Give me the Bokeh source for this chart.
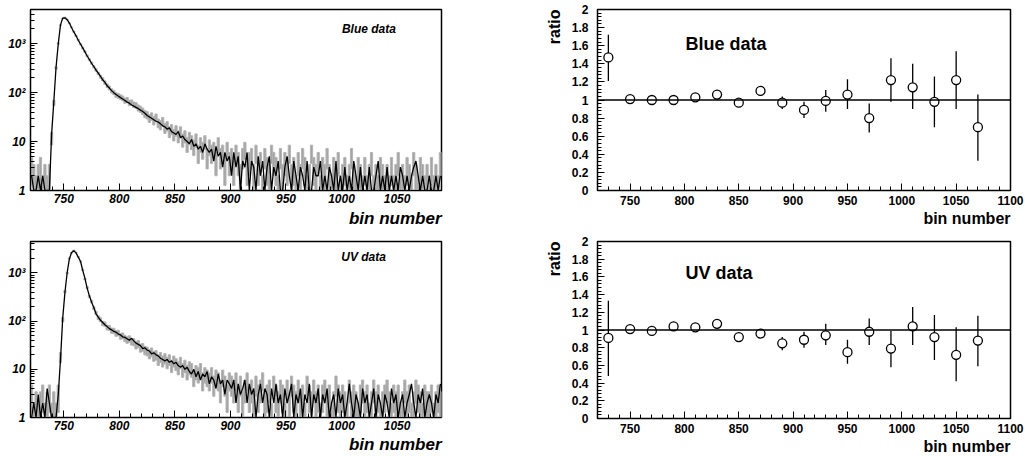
import numpy as np
from bokeh.embed import file_html
from bokeh.layouts import column, row
from bokeh.models import FixedTicker, Label, Span, Title
from bokeh.plotting import figure
from bokeh.resources import INLINE

FONT = "Liberation Sans"

# 2-unit bins, centres 721 ... 1089
bin_centers = np.arange(721, 1090, 2)

blue_data = [
    3, 2, 1, 2, 3, 1, 2, 1, 2, 12,
    62, 320, 1010, 2380, 3290, 3420, 3120, 2610, 2140, 1760,
    1440, 1190, 975, 815, 690, 565, 470, 402, 338, 291,
    248, 212, 187, 161, 139, 125, 109, 101, 90, 86,
    81, 77, 69, 71, 62, 63, 57, 55, 49, 46,
    42, 37, 35, 30, 33, 27, 31, 24, 22, 26,
    19, 21, 16, 18, 14, 17, 13, 16, 11, 13,
    9, 12, 10, 8, 11, 6, 9, 7, 10, 5,
    8, 6, 7, 4, 9, 5, 6, 3, 7, 4,
    5, 3, 6, 4, 2, 5, 7, 3, 4, 5,
    2, 6, 3, 4, 1, 5, 3, 2, 6, 4,
    3, 1, 5, 2, 4, 3, 6, 2, 3, 1,
    4, 2, 5, 3, 1, 2, 6, 3, 2, 4,
    1, 3, 2, 5, 2, 1, 3, 2, 4, 1,
    2, 3, 1, 2, 5, 2, 1, 3, 2, 1,
    3, 1, 2, 4, 1, 2, 1, 3, 2, 1,
    2, 1, 3, 1, 2, 4, 1, 2, 1, 3,
    2, 1, 4, 2, 1, 3, 2, 1, 2, 1,
    3, 1, 2, 1, 4,
]
blue_sim = [
    2, 1, 1, 2, 1, 2, 1, 1, 1, 14,
    66, 330, 990, 2420, 3330, 3380, 3090, 2640, 2120, 1740,
    1450, 1175, 985, 820, 680, 560, 475, 398, 342, 288,
    251, 216, 183, 162, 138, 124, 110, 100, 92, 85,
    79, 74, 69, 64, 61, 56, 53, 50, 47, 44,
    41, 38, 34, 32, 30, 28, 26, 25, 23, 21,
    20, 18, 19, 16, 15, 14, 16, 12, 13, 11,
    10, 9, 11, 8, 9, 7, 8, 6, 9, 7,
    6, 7, 4, 8, 5, 6, 3, 6, 4, 5,
    2, 6, 3, 5, 1, 4, 3, 6, 1, 4,
    3, 1, 5, 2, 4, 1, 3, 5, 1, 3,
    2, 4, 1, 1, 3, 5, 2, 1, 4, 2,
    1, 3, 2, 1, 4, 1, 1, 3, 2, 2,
    4, 1, 2, 1, 3, 2, 1, 4, 1, 2,
    1, 3, 1, 2, 1, 4, 2, 1, 3, 1,
    2, 1, 3, 1, 1, 2, 4, 1, 2, 1,
    3, 1, 2, 1, 2, 1, 3, 2, 1, 2,
    1, 2, 3, 4, 2, 1, 2, 1, 1, 2,
    1, 1, 2, 1, 2,
]
uv_data = [
    3, 1, 2, 1, 2, 3, 1, 2, 3, 1,
    2, 1, 3, 18, 108, 410, 990, 2010, 2610, 2920,
    2640, 2150, 1730, 1160, 750, 495, 325, 255, 186, 148,
    118, 107, 90, 87, 74, 73, 64, 63, 56, 57,
    49, 50, 44, 41, 43, 38, 37, 32, 34, 28,
    29, 25, 24, 21, 23, 19, 20, 16, 18, 15,
    17, 14, 16, 12, 15, 13, 11, 14, 10, 12,
    9, 11, 10, 7, 9, 8, 10, 6, 8, 7,
    6, 8, 5, 7, 6, 4, 7, 5, 3, 6,
    5, 4, 6, 3, 5, 2, 4, 6, 3, 4,
    2, 5, 3, 4, 6, 2, 3, 4, 1, 5,
    3, 2, 4, 3, 1, 4, 2, 5, 3, 2,
    4, 2, 3, 1, 5, 3, 2, 4, 2, 3,
    1, 3, 4, 2, 3, 1, 2, 5, 3, 2,
    3, 2, 1, 4, 2, 3, 2, 1, 3, 4,
    2, 3, 1, 2, 4, 2, 3, 1, 2, 3,
    4, 2, 1, 3, 2, 3, 1, 2, 4, 2,
    3, 1, 2, 4, 3, 2, 1, 3, 2, 2,
    3, 1, 2, 3, 2,
]
uv_sim = [
    1, 2, 1, 3, 1, 2, 1, 4, 2, 1,
    1, 1, 3, 16, 115, 395, 1010, 1980, 2650, 2880,
    2610, 2130, 1750, 1140, 770, 485, 335, 248, 192, 142,
    121, 104, 94, 84, 77, 70, 66, 61, 59, 54,
    52, 47, 46, 43, 40, 44, 39, 35, 33, 31,
    27, 28, 25, 24, 21, 22, 20, 19, 17, 16,
    15, 16, 14, 15, 13, 14, 12, 11, 12, 10,
    11, 9, 8, 10, 7, 9, 6, 8, 7, 9,
    5, 7, 6, 4, 8, 5, 6, 3, 6, 5,
    4, 6, 2, 5, 3, 4, 6, 2, 5, 3,
    4, 1, 3, 5, 2, 4, 3, 1, 4, 2,
    5, 2, 3, 1, 4, 2, 3, 5, 1, 3,
    2, 4, 1, 3, 2, 5, 1, 3, 2, 4,
    1, 3, 2, 4, 1, 2, 3, 1, 4, 2,
    3, 1, 2, 5, 2, 1, 3, 2, 1, 4,
    2, 3, 1, 2, 4, 1, 3, 2, 1, 3,
    2, 1, 4, 2, 3, 1, 2, 3, 1, 2,
    3, 5, 2, 1, 3, 2, 4, 1, 2, 3,
    2, 1, 3, 2, 5,
]

ratio_x = [730, 750, 770, 790, 810, 830, 850, 870, 890, 910,
           930, 950, 970, 990, 1010, 1030, 1050, 1070]
blue_ratio = [1.47, 1.01, 1.00, 1.00, 1.03, 1.06, 0.97, 1.10, 0.97, 0.89,
              0.99, 1.06, 0.80, 1.22, 1.14, 0.98, 1.22, 0.70]
blue_ratio_hi = [1.72, 1.03, 1.02, 1.02, 1.05, 1.08, 0.99, 1.13, 1.04, 0.98,
                 1.11, 1.23, 0.96, 1.46, 1.40, 1.26, 1.54, 1.06]
blue_ratio_lo = [1.21, 0.99, 0.98, 0.98, 1.01, 1.04, 0.95, 1.07, 0.90, 0.80,
                 0.87, 0.90, 0.64, 0.98, 0.90, 0.70, 0.90, 0.33]
uv_ratio = [0.91, 1.01, 0.99, 1.04, 1.03, 1.07, 0.92, 0.96, 0.85, 0.89,
            0.94, 0.75, 0.98, 0.79, 1.04, 0.92, 0.72, 0.88]
uv_ratio_hi = [1.33, 1.03, 1.01, 1.06, 1.05, 1.09, 0.95, 1.00, 0.92, 0.98,
               1.07, 0.89, 1.13, 0.99, 1.26, 1.17, 1.03, 1.16]
uv_ratio_lo = [0.48, 0.99, 0.97, 1.02, 1.01, 1.05, 0.89, 0.92, 0.77, 0.80,
               0.83, 0.62, 0.83, 0.58, 0.83, 0.66, 0.42, 0.59]

log_ticks = [1, 10, 100, 1000]
log_labels = {1: "1", 10: "10", 100: "10\u00b2", 1000: "10\u00b3"}
ratio_ticks = [0, 0.2, 0.4, 0.6, 0.8, 1, 1.2, 1.4, 1.6, 1.8, 2]


def style_axes(p, italic):
    style = "bold italic" if italic else "bold"
    p.xgrid.visible = False
    p.ygrid.visible = False
    p.outline_line_color = "black"
    p.outline_line_width = 1.5
    p.background_fill_color = "white"
    p.border_fill_color = "white"
    for ax in (p.xaxis, p.yaxis):
        ax.axis_line_color = "black"
        ax.major_tick_line_color = "black"
        ax.minor_tick_line_color = "black"
        ax.major_tick_in = 7
        ax.major_tick_out = 0
        ax.minor_tick_in = 4
        ax.minor_tick_out = 0
        ax.major_label_text_font = FONT
        ax.major_label_text_font_style = style
        ax.major_label_text_font_size = "12px"
        ax.major_label_text_color = "black"


def tag_label(p, x, y, text, align, style, size):
    p.add_layout(Label(x=x, y=y, x_units="data", y_units="screen", text=text,
                       text_align=align, text_baseline="alphabetic",
                       text_font=FONT, text_font_style=style,
                       text_font_size=size, text_color="black"))


def outer_title(p, side, text, style, size, standoff, offset=0):
    p.add_layout(Title(text=text, align="right", standoff=standoff, offset=offset,
                       text_font=FONT, text_font_style=style, text_font_size=size,
                       text_color="black"), side)


def histo_panel(data, sim, tag, label_x, height, top, bottom, y_max, title_gap):
    p = figure(width=520, height=height, x_range=(720, 1090), y_range=(1, y_max),
               y_axis_type="log", output_backend="svg", toolbar_location=None,
               min_border_left=30, min_border_right=79, min_border_top=top,
               min_border_bottom=bottom)
    style_axes(p, True)
    p.xaxis.ticker = FixedTicker(ticks=[750, 800, 850, 900, 950, 1000, 1050],
                                 minor_ticks=list(range(730, 1090, 10)))
    p.xaxis.major_label_standoff = 3
    minors = [m * d for d in (1, 10, 100, 1000) for m in range(2, 10)]
    p.yaxis.ticker = FixedTicker(ticks=log_ticks, minor_ticks=minors)
    p.yaxis.major_label_overrides = log_labels
    p.yaxis.major_label_standoff = 5

    d = np.array(data, dtype=float)
    keep = d > 0
    err = np.sqrt(d[keep])
    c = bin_centers[keep]
    p.quad(left=c - 1, right=c + 1, bottom=np.maximum(d[keep] - err, 0.5), top=d[keep] + err,
           fill_color="#8c8c8c", fill_alpha=0.8, line_color="#b4b4b4", line_width=1)
    p.line(bin_centers, sim, line_color="black", line_width=1.3)

    frame_h = height - top - bottom
    tag_label(p, label_x, frame_h - 19, tag, "right", "bold italic", "12px")
    outer_title(p, "below", "bin number", "bold italic", "17px", title_gap)
    return p


def ratio_panel(vals, lo, hi, tag, height, top, bottom, ratio_offset, title_gap):
    p = figure(width=505, height=height, x_range=(720, 1100), y_range=(0, 2),
               output_backend="svg", toolbar_location=None,
               min_border_left=77, min_border_right=15, min_border_top=top,
               min_border_bottom=bottom)
    style_axes(p, False)
    p.xaxis.ticker = FixedTicker(ticks=[750, 800, 850, 900, 950, 1000, 1050, 1100],
                                 minor_ticks=list(range(730, 1100, 10)))
    p.xaxis.major_label_standoff = 5
    p.yaxis.ticker = FixedTicker(ticks=ratio_ticks,
                                 minor_ticks=[round(0.04 * k, 2) for k in range(51)])
    p.yaxis.major_label_overrides = {t: f"{t:g}" for t in ratio_ticks}
    p.yaxis.major_label_standoff = 9

    p.add_layout(Span(location=1, dimension="width", line_color="black", line_width=1.3))
    p.segment(ratio_x, lo, ratio_x, hi, line_color="black", line_width=1.3)
    p.scatter(ratio_x, vals, marker="circle", size=9, fill_color="white",
              line_color="black", line_width=1.3)

    frame_h = height - top - bottom
    tag_label(p, 801, frame_h - 34, tag, "left", "bold", "18px")
    outer_title(p, "below", "bin number", "bold", "16px", title_gap)
    outer_title(p, "left", "ratio", "bold", "16px", 12, ratio_offset)
    return p


top_left = histo_panel(blue_data, blue_sim, "Blue data", 1049, 230, 9, 40, 5000, 3)
bottom_left = histo_panel(uv_data, uv_sim, "UV data", 1040, 224, 11, 33, 4500, 1)
top_right = ratio_panel(blue_ratio, blue_ratio_lo, blue_ratio_hi, "Blue data", 230, 9, 40, 0, 0)
bottom_right = ratio_panel(uv_ratio, uv_ratio_lo, uv_ratio_hi, "UV data", 224, 11, 33, 0, 0)

layout = row(column(top_left, bottom_left), column(top_right, bottom_right))
open("out.html", "w").write(file_html(layout, INLINE))
